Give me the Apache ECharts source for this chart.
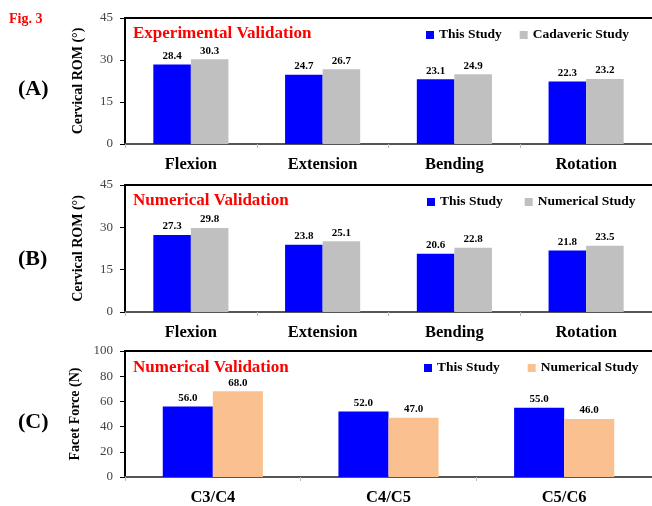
<!DOCTYPE html>
<html>
<head>
<meta charset="utf-8">
<script src="https://cdn.jsdelivr.net/npm/echarts@6/dist/echarts.min.js"></script>
<style>html,body{margin:0;padding:0;background:#fff}#c{width:652px;height:506px}</style>
</head>
<body>
<div id="c"></div>
<script>
const romCategories = ['Flexion', 'Extension', 'Bending', 'Rotation'];
const forceCategories = ['C3/C4', 'C4/C5', 'C5/C6'];
const aThisStudy = [28.4, 24.7, 23.1, 22.3];
const aCadaveric = [30.3, 26.7, 24.9, 23.2];
const bThisStudy = [27.3, 23.8, 20.6, 21.8];
const bNumerical = [29.8, 25.1, 22.8, 23.5];
const cThisStudy = [56.0, 52.0, 55.0];
const cNumerical = [68.0, 47.0, 46.0];
const romTicks = {min: 0, max: 45, interval: 15};
const forceTicks = {min: 0, max: 100, interval: 20};

const SERIF = "'Liberation Serif','Times New Roman',serif";
const BLUE = '#0000FF', GREY = '#C0C0C0', PEACH = '#FAC090';

const grids = [
  {left: 125, right: -5, top: 18, height: 126},
  {left: 125, right: -5, top: 185, height: 127},
  {left: 125, right: -5, top: 351, height: 127}
];
const cats = [romCategories, romCategories, forceCategories];
const xAxes = [], yAxes = [];
const yNames = ['Cervical ROM (°)', 'Cervical ROM (°)', 'Facet Force (N)'];
const ticks = [romTicks, romTicks, forceTicks];
const nameGaps = [40, 40, 39];
for (let i = 0; i < 3; i++) {
  xAxes.push({
    type: 'category', gridIndex: i, data: cats[i], position: 'bottom',
    axisLine: {lineStyle: {color: '#555', width: 2}},
    axisTick: {show: true, length: 4, lineStyle: {color: '#bbb'}},
    axisLabel: {fontFamily: SERIF, fontWeight: 'bold', fontSize: 16.5, color: '#000', margin: 12}
  });
  xAxes.push({
    type: 'category', gridIndex: i, data: cats[i], position: 'top',
    axisLine: {lineStyle: {color: '#000', width: 2}},
    axisTick: {show: false}, axisLabel: {show: false}
  });
  yAxes.push({
    type: 'value', gridIndex: i, min: ticks[i].min, max: ticks[i].max, interval: ticks[i].interval,
    name: yNames[i], nameLocation: 'middle', nameGap: nameGaps[i],
    nameTextStyle: {fontFamily: SERIF, fontWeight: 'bold', fontSize: 14, color: '#000'},
    axisLine: {show: true, lineStyle: {color: '#000', width: 2}},
    axisTick: {show: true, length: 5, lineStyle: {color: '#000'}},
    splitLine: {show: false},
    axisLabel: {fontFamily: SERIF, fontSize: 13, color: '#444', margin: 12}
  });
}
function bar(name, data, xi, yi, color) {
  return {
    type: 'bar', name: name, data: data, xAxisIndex: xi, yAxisIndex: yi,
    itemStyle: {color: color}, barGap: '0%', barCategoryGap: '43%',
    label: {show: true, position: 'top', distance: 3, fontFamily: SERIF, fontWeight: 'bold', fontSize: 11, color: '#000',
      formatter: p => p.value.toFixed(1)}
  };
}
const legendText = {fontFamily: SERIF, fontWeight: 'bold', fontSize: 13.5, color: '#000'};
const titleRed = {color: '#FF0000', fontFamily: SERIF, fontWeight: 'bold', fontSize: 17};
const panelLbl = {color: '#000', fontFamily: SERIF, fontWeight: 'bold', fontSize: 22};
const option = {
  animation: false,
  title: [
    {text: 'Fig. 3', left: 4, top: 7, textStyle: {color: '#FF0000', fontFamily: SERIF, fontWeight: 'bold', fontSize: 14}},
    {text: 'Experimental Validation', left: 128, top: 20, textStyle: titleRed},
    {text: 'Numerical Validation', left: 128, top: 187, textStyle: titleRed},
    {text: 'Numerical Validation', left: 128, top: 354, textStyle: titleRed},
    {text: '(A)', left: 13, top: 73, textStyle: panelLbl},
    {text: '(B)', left: 13, top: 243, textStyle: panelLbl},
    {text: '(C)', left: 13, top: 406, textStyle: panelLbl}
  ],
  legend: [
    {left: 421, top: 23, itemWidth: 8, itemHeight: 8, itemGap: 18, icon: 'rect', textStyle: legendText,
      data: [{name: 'This Study', itemStyle: {color: BLUE}}, {name: 'Cadaveric Study', itemStyle: {color: GREY}}]},
    {left: 422, top: 190, itemWidth: 8, itemHeight: 8, itemGap: 22, icon: 'rect', textStyle: legendText,
      data: [{name: 'This Study', itemStyle: {color: BLUE}}, {name: 'Numerical Study', itemStyle: {color: GREY}}]},
    {left: 419, top: 356, itemWidth: 8, itemHeight: 8, itemGap: 28, icon: 'rect', textStyle: legendText,
      data: [{name: 'This Study', itemStyle: {color: BLUE}}, {name: 'Numerical Study', itemStyle: {color: PEACH}}]}
  ],
  grid: grids,
  xAxis: xAxes,
  yAxis: yAxes,
  series: [
    bar('This Study', aThisStudy, 0, 0, BLUE),
    bar('Cadaveric Study', aCadaveric, 0, 0, GREY),
    bar('This Study', bThisStudy, 2, 1, BLUE),
    bar('Numerical Study', bNumerical, 2, 1, GREY),
    bar('This Study', cThisStudy, 4, 2, BLUE),
    bar('Numerical Study', cNumerical, 4, 2, PEACH)
  ]
};
echarts.init(document.getElementById('c'), null, {renderer: 'canvas'}).setOption(option);
</script>
</body>
</html>
